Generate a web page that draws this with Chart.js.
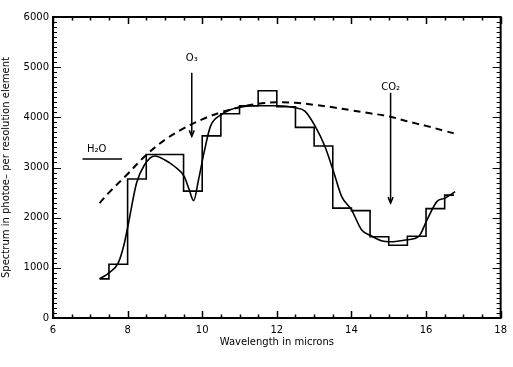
<!DOCTYPE html>
<html>
<head>
<meta charset="utf-8">
<script src="https://cdn.jsdelivr.net/npm/chart.js@4/dist/chart.umd.min.js"></script>
<style>
  html, body { margin: 0; padding: 0; background: #fff; }
</style>
</head>
<body>
<canvas id="spec" width="513" height="367"></canvas>
<script>
// histogram bins (microns) and counts per bin
const binEdges = [7.25, 7.5, 8.0, 8.5, 9.5, 10.0, 10.5, 11.0, 11.5, 12.0, 12.5, 13.0, 13.5, 14.0, 14.5, 15.0, 15.5, 16.0, 16.5, 16.75];
const binValues = [780, 1070, 2770, 3260, 2530, 3630, 4070, 4230, 4530, 4210, 3800, 3430, 2190, 2140, 1620, 1450, 1630, 2180, 2450];

// smooth model spectrum
const smoothX = [7.25, 7.5, 7.75, 7.9, 8.0, 8.24, 8.45, 8.73, 9.0, 9.26, 9.52, 9.65, 9.77, 9.9, 10.05, 10.22, 10.5, 10.75, 11.0, 11.5, 12.0, 12.5, 12.76, 13.03, 13.29, 13.52, 13.74, 14.0, 14.27, 14.53, 14.8, 15.05, 15.5, 15.8, 16.03, 16.29, 16.51, 16.78];
const smoothY = [780, 900, 1100, 1450, 1800, 2690, 3050, 3230, 3150, 3020, 2820, 2560, 2340, 2750, 3300, 3820, 4050, 4150, 4200, 4230, 4230, 4190, 4120, 3820, 3420, 2920, 2420, 2160, 1760, 1640, 1540, 1520, 1560, 1620, 1960, 2320, 2390, 2520];

// dashed continuum
const dashX = [7.25, 7.5, 8.0, 8.5, 9.0, 9.5, 10.0, 10.5, 11.0, 11.5, 12.0, 12.5, 13.0, 13.5, 14.0, 14.5, 15.0, 15.5, 16.0, 16.5, 16.8];
const dashY = [2290, 2500, 2870, 3250, 3550, 3780, 3960, 4100, 4200, 4270, 4300, 4290, 4250, 4200, 4140, 4080, 4020, 3920, 3830, 3730, 3670];

const xTicks = [6, 8, 10, 12, 14, 16, 18];
const yTicks = [0, 1000, 2000, 3000, 4000, 5000, 6000];

// labels: [text, x, y], arrows: [x, yFrom, yTo]
const labels = [['O₃', 9.72, 5170], ['CO₂', 15.05, 4600], ['H₂O', 7.17, 3370]];
const arrows = [[9.72, 4890, 3620], [15.05, 4490, 2290]];
const h2oBar = [6.79, 7.85, 3170];

const stepPts = binEdges.map((e, i) => ({ x: e, y: binValues[Math.min(i, binValues.length - 1)] }));
const font = { family: 'DejaVu Sans', size: 10 };

const frame = {
    id: 'frame',
    afterDraw(chart) {
        const { ctx, chartArea: a, scales: { x, y } } = chart;
        ctx.save();
        ctx.strokeStyle = '#000';
        ctx.lineWidth = 1.5;
        ctx.beginPath();
        for (let v = 6; v <= 18.001; v += 0.5) {
            const px = Math.round(x.getPixelForValue(v)) + 0.5;
            const len = Math.abs(v % 2) < 0.01 ? 7 : 3.5;
            ctx.moveTo(px, a.bottom); ctx.lineTo(px, a.bottom - len);
            ctx.moveTo(px, a.top); ctx.lineTo(px, a.top + len);
        }
        ctx.stroke();
        ctx.lineWidth = 1;
        ctx.beginPath();
        for (let v = 0; v <= 6000; v += 100) {
            const py = Math.round(y.getPixelForValue(v)) + 0.5;
            const len = v % 1000 === 0 ? 8 : 4;
            ctx.moveTo(a.left, py); ctx.lineTo(a.left + len, py);
            ctx.moveTo(a.right, py); ctx.lineTo(a.right - len, py);
        }
        ctx.stroke();
        ctx.lineWidth = 2;
        ctx.strokeRect(a.left, a.top, a.right - a.left, a.bottom - a.top);

        // annotations
        ctx.fillStyle = '#000';
        ctx.font = '10px "DejaVu Sans"';
        ctx.textAlign = 'center';
        ctx.textBaseline = 'middle';
        labels.forEach(([t, lx, ly]) => ctx.fillText(t, x.getPixelForValue(lx), y.getPixelForValue(ly)));
        ctx.lineWidth = 1.5;
        arrows.forEach(([ax, y0, y1]) => {
            const px = x.getPixelForValue(ax), p0 = y.getPixelForValue(y0), p1 = y.getPixelForValue(y1);
            ctx.beginPath(); ctx.moveTo(px, p0); ctx.lineTo(px, p1); ctx.stroke();
            ctx.beginPath(); ctx.moveTo(px - 2.5, p1 - 6); ctx.lineTo(px, p1); ctx.lineTo(px + 2.5, p1 - 6); ctx.stroke();
        });
        ctx.beginPath();
        ctx.moveTo(x.getPixelForValue(h2oBar[0]), y.getPixelForValue(h2oBar[2]));
        ctx.lineTo(x.getPixelForValue(h2oBar[1]), y.getPixelForValue(h2oBar[2]));
        ctx.stroke();
        ctx.restore();
    }
};

new Chart(document.getElementById('spec'), {
    type: 'line',
    data: {
        datasets: [{
            data: stepPts,
            stepped: 'before',
            borderColor: '#000',
            borderWidth: 1.6,
            pointRadius: 0
        }, {
            data: smoothX.map((v, i) => ({ x: v, y: smoothY[i] })),
            borderColor: '#000',
            borderWidth: 1.6,
            cubicInterpolationMode: 'monotone',
            pointRadius: 0
        }, {
            data: dashX.map((v, i) => ({ x: v, y: dashY[i] })),
            borderColor: '#000',
            borderWidth: 2,
            borderDash: [7, 5],
            tension: 0.4,
            pointRadius: 0
        }]
    },
    options: {
        responsive: false,
        animation: false,
        devicePixelRatio: 1,
        layout: { padding: { left: 0, right: 5, top: 17, bottom: 0 } },
        plugins: { legend: { display: false }, tooltip: { enabled: false } },
        scales: {
            x: {
                type: 'linear', min: 6, max: 18,
                afterBuildTicks: s => { s.ticks = xTicks.map(v => ({ value: v })); },
                afterFit: s => { s.height = 49; },
                ticks: { color: '#000', font, padding: 6, maxRotation: 0, callback: v => String(v) },
                grid: { display: false, drawTicks: false },
                border: { display: false },
                title: { display: true, text: 'Wavelength in microns', color: '#000', font, padding: { top: 0, bottom: 19 } }
            },
            y: {
                min: 0, max: 6000,
                afterBuildTicks: s => { s.ticks = yTicks.map(v => ({ value: v })); },
                afterFit: s => { s.width = 53; },
                ticks: { color: '#000', font, padding: 4, callback: v => String(v) },
                grid: { display: false, drawTicks: false },
                border: { display: false },
                title: { display: true, text: 'Spectrum in photoe– per resolution element', color: '#000', font, padding: { top: 0, bottom: 0 } }
            }
        }
    },
    plugins: [frame]
});
</script>
</body>
</html>
